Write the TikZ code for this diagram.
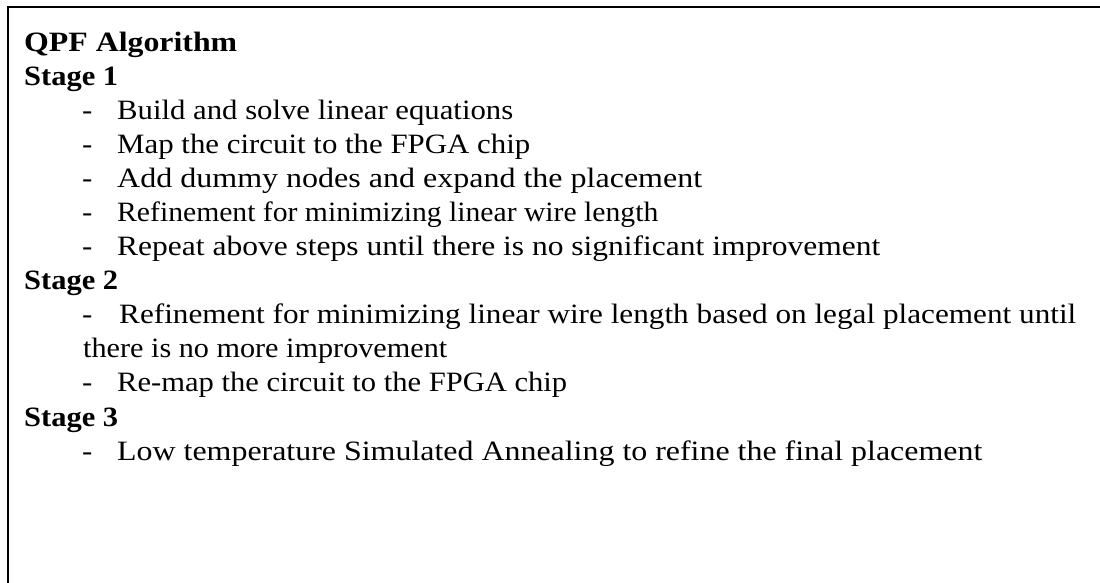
\documentclass[tikz,border=0pt]{standalone}
\usepackage{fontspec}
\setmainfont{Liberation Serif}
% set a line of text to a given width (in pt) while keeping its height
\newcommand{\fitto}[2]{\resizebox{#1pt}{\height}{#2}}
\newcommand{\stretchtext}[1]{\scalebox{1.1}[1]{#1}}
\tikzset{
  frame/.style={line width=2pt, line cap=rect},
  head/.style={anchor=base west, inner sep=0pt, font=\fontsize{28}{33}\selectfont\bfseries},
  item/.style={anchor=base west, inner sep=0pt, font=\fontsize{28}{33}\selectfont},
}
\begin{document}
\begin{tikzpicture}[x=1pt, y=-1pt]
  \useasboundingbox (0,0) rectangle (1100,582);
  % open frame: top and left edges only
  \coordinate (tr) at (1100,6.5);
  \coordinate (tl) at (7.5,6.5);
  \coordinate (bl) at (7.5,582);
  \draw[frame] (tr) -- (tl) -- (bl);
  % headings
  \node[head] (title) at (24,51) {\fitto{213}{QPF Algorithm}};
  \node[head] (s1) at (24,85.1) {\fitto{94}{Stage 1}};
  \node[head] (s2) at (24,289.6) {\fitto{94}{Stage 2}};
  \node[head] (s3) at (24,426) {\fitto{94}{Stage 3}};
  % stage 1 steps
  \foreach \y/\w/\t [count=\i] in {
      119.2/396/Build and solve linear equations,
      153.3/413/Map the circuit to the FPGA chip,
      187.4/585/Add dummy nodes and expand the placement,
      221.5/541/Refinement for minimizing linear wire length,
      255.5/763/Repeat above steps until there is no significant improvement} {
    \node[item] (d1\i) at (82,\y) {\stretchtext{-}};
    \node[item] (a1\i) at (117,\y) {\fitto{\w}{\t}};
  }
  % stage 2 steps
  \node[item] (d21) at (82,323.7) {\stretchtext{-}};
  \node[item] (a21) at (119,323.7) {\fitto{957}{Refinement for minimizing linear wire length based on legal placement until}};
  \node[item] (a21b) at (83,357.8) {\fitto{364}{there is no more improvement}};
  \node[item] (d22) at (82,391.9) {\stretchtext{-}};
  \node[item] (a22) at (117,391.9) {\fitto{450}{Re-map the circuit to the FPGA chip}};
  % stage 3 step
  \node[item] (d31) at (82,460.1) {\stretchtext{-}};
  \node[item] (a31) at (117,460.1) {\fitto{865}{Low temperature Simulated Annealing to refine the final placement}};
\end{tikzpicture}
\end{document}
